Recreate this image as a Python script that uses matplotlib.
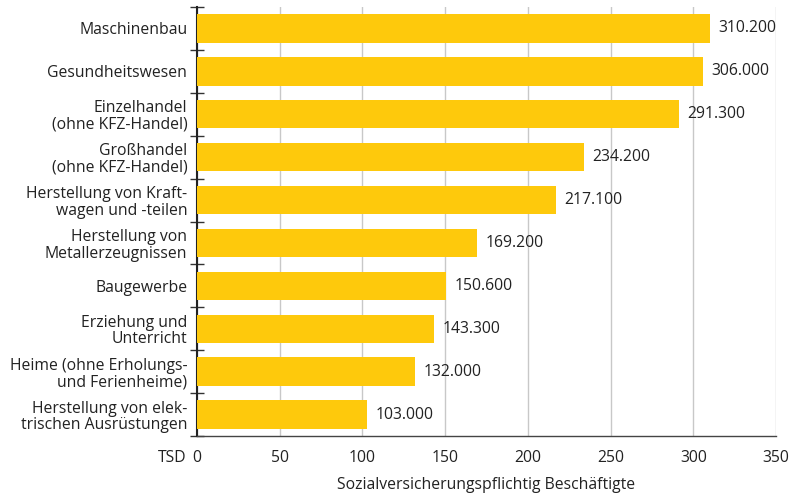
import matplotlib
matplotlib.use("Agg")
import matplotlib.pyplot as plt
import numpy as np

categories = [
    "Maschinenbau",
    "Gesundheitswesen",
    "Einzelhandel\n(ohne KFZ-Handel)",
    "Großhandel\n(ohne KFZ-Handel)",
    "Herstellung von Kraft-\nwagen und -teilen",
    "Herstellung von\nMetallerzeugnissen",
    "Baugewerbe",
    "Erziehung und\nUnterricht",
    "Heime (ohne Erholungs-\nund Ferienheime)",
    "Herstellung von elek-\ntrischen Ausrüstungen",
]
values = [310.2, 306.0, 291.3, 234.2, 217.1, 169.2, 150.6, 143.3, 132.0, 103.0]
xticks = [0, 50, 100, 150, 200, 250, 300, 350]
xlabel = "Sozialversicherungspflichtig Beschäftigte"
unit = "TSD"

FS = 11.3
plt.rcParams['font.family'] = ['Open Sans', 'DejaVu Sans']
fig = plt.figure(figsize=(7.93, 4.96), dpi=100)
ax = fig.add_axes([197/793, 1-436/496, (776-197)/793, (436-7)/496])

n = len(categories)
y = np.arange(n)
ax.barh(y, values, height=0.66, color="#FEC90C", zorder=3)
ax.set_ylim(n - 0.5, -0.5)
ax.set_xlim(0, 350)

for yi, v in zip(y, values):
    ax.text(v + 5, yi, f"{int(round(v*1000)):,}".replace(",", "."),
            va="center", ha="left", fontsize=FS, color="#222222", zorder=4)

ax.set_yticks(y)
ax.set_yticklabels(categories, fontsize=FS, color="#222222", linespacing=1.05)
ax.tick_params(axis="y", which="major", length=0, pad=7)
ax.set_yticks(np.arange(-0.5, n, 1.0), minor=True)
ax.tick_params(axis="y", which="minor", direction="inout", length=10, width=1, color="#333333")

ax.set_xticks(xticks)
ax.set_xticklabels([str(t) for t in xticks], fontsize=FS, color="#222222")
ax.tick_params(axis="x", length=0, pad=10)
ax.grid(axis="x", color="#c8c8c8", linewidth=1, zorder=0)

for s in ["top", "right"]:
    ax.spines[s].set_visible(False)
ax.spines["left"].set_color("#222222")
ax.spines["left"].set_linewidth(1.5)
ax.spines["bottom"].set_color("#444444")
ax.spines["bottom"].set_linewidth(1)

ax.set_xlabel(xlabel, fontsize=FS, color="#222222", labelpad=8)
fig.text(186/793, 1-458/496, unit, ha="right", va="center",
         fontsize=FS, color="#222222")

fig.savefig("out.png", dpi=100)
